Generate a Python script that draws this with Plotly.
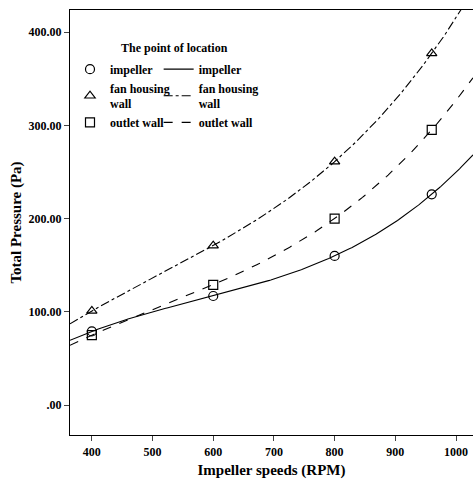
import numpy as np
import plotly.graph_objects as go

rpm = [400, 600, 800, 960]
impeller = [79, 117, 160, 226]
fan_housing = [101, 171, 261, 377]
outlet_wall = [75, 129, 200, 295]

series_names = ["impeller", "fan housing<br>wall", "outlet wall"]
series_vals = [impeller, fan_housing, outlet_wall]
symbols = ["circle-open", "triangle-up-open", "square-open"]
dashes = ["solid", "dashdot", "dash"]

y_tickvals = [0, 100, 200, 300, 400]
y_ticktext = [".00", "100.00", "200.00", "300.00", "400.00"]
x_tickvals = [400, 500, 600, 700, 800, 900, 1000]

FONT = "Liberation Serif"
fig = go.Figure()

xs = np.linspace(364, 1028, 300)
for name, vals, sym in zip(series_names, series_vals, symbols):
    fig.add_trace(go.Scatter(x=rpm, y=vals, mode="markers", name=name,
                             marker=dict(symbol=sym, size=9, color="black",
                                         line=dict(width=1.2, color="black")),
                             legend="legend", cliponaxis=True))
for name, vals, dash in zip(series_names, series_vals, dashes):
    c = np.polyfit(rpm, vals, 3)
    fig.add_trace(go.Scatter(x=xs, y=np.polyval(c, xs), mode="lines", name=name,
                             line=dict(color="black", width=1.1, dash=dash),
                             legend="legend2"))

legend_common = dict(font=dict(family=FONT, size=12, color="black", weight="bold"),
                     bgcolor="rgba(0,0,0,0)", itemwidth=30, tracegroupgap=0,
                     xanchor="left", yanchor="top")
fig.update_layout(
    width=473, height=479,
    margin=dict(l=70, r=0, t=10, b=44),
    paper_bgcolor="white", plot_bgcolor="white",
    font=dict(family=FONT, color="black"),
    legend=dict(x=0.0, y=0.895, **legend_common),
    legend2=dict(x=0.22, y=0.895, **legend_common),
    xaxis=dict(range=[364, 1028], tickvals=x_tickvals, ticks="outside", ticklen=5,
               showline=True, linecolor="black", linewidth=1.2, mirror=True,
               showgrid=False, zeroline=False,
               tickfont=dict(family=FONT, size=12, weight="bold"),
               title=dict(text="Impeller speeds (RPM)", standoff=9,
                          font=dict(family=FONT, size=15, weight="bold"))),
    yaxis=dict(range=[-32, 423.6], tickvals=y_tickvals, ticktext=y_ticktext,
               ticks="outside", ticklen=5,
               showline=True, linecolor="black", linewidth=1.2,
               showgrid=False, zeroline=False,
               tickfont=dict(family=FONT, size=12, weight="bold"),
               title=dict(text="Total Pressure (Pa)", standoff=3,
                          font=dict(family=FONT, size=15, weight="bold"))),
    annotations=[dict(text="The point of location", xref="paper", yref="paper",
                      x=0.26, y=0.89, xanchor="center", yanchor="bottom", showarrow=False,
                      font=dict(family=FONT, size=12, weight="bold"))],
)
fig.write_html("out.html")
